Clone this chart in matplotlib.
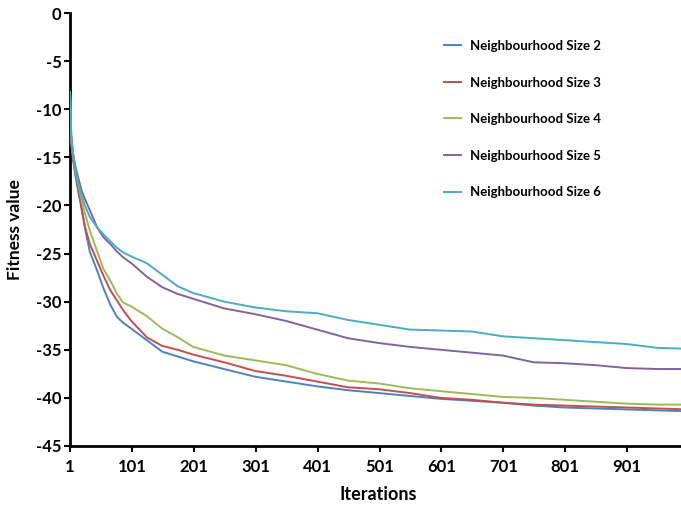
import matplotlib
matplotlib.use("Agg")
import matplotlib.pyplot as plt

# MARK:- data
iterations = [1, 3, 6, 10, 15, 20, 25, 33, 45, 55, 66, 77, 87, 100, 125, 150, 175, 200,
              250, 300, 350, 400, 450, 500, 550, 600, 650, 700, 750, 800, 850, 900, 950, 1000]

size2 = [-8.2, -13.5, -15.3, -17.0, -18.8, -20.3, -22.3, -24.8, -26.8, -28.6, -30.3, -31.6,
         -32.2, -32.8, -34.0, -35.2, -35.7, -36.2, -37.0, -37.8, -38.3, -38.8, -39.2, -39.5,
         -39.8, -40.1, -40.3, -40.5, -40.8, -41.0, -41.1, -41.2, -41.3, -41.4]
size3 = [-8.2, -13.3, -15.1, -16.8, -18.5, -20.5, -22.2, -24.0, -25.8, -27.3, -28.8, -29.9,
         -30.9, -32.0, -33.7, -34.6, -35.0, -35.5, -36.3, -37.2, -37.7, -38.3, -38.9, -39.1,
         -39.5, -40.0, -40.2, -40.5, -40.7, -40.8, -40.9, -41.0, -41.1, -41.2]
size4 = [-8.2, -13.2, -14.9, -16.5, -18.0, -19.5, -20.8, -22.6, -24.8, -26.6, -27.8, -29.2,
         -30.1, -30.5, -31.5, -32.8, -33.7, -34.7, -35.6, -36.1, -36.6, -37.5, -38.2, -38.5,
         -39.0, -39.3, -39.6, -39.9, -40.0, -40.2, -40.4, -40.6, -40.7, -40.7]
size5 = [-8.2, -12.8, -14.6, -16.0, -17.3, -18.5, -19.3, -20.5, -22.3, -23.3, -24.0, -24.8,
         -25.4, -26.0, -27.4, -28.5, -29.2, -29.7, -30.7, -31.3, -32.0, -32.9, -33.8, -34.3,
         -34.7, -35.0, -35.3, -35.6, -36.3, -36.4, -36.6, -36.9, -37.0, -37.0]
size6 = [-8.2, -12.6, -14.7, -16.4, -17.8, -19.0, -20.0, -21.2, -22.3, -23.0, -23.7, -24.4,
         -24.9, -25.3, -26.0, -27.2, -28.4, -29.1, -30.0, -30.6, -31.0, -31.2, -31.9, -32.4,
         -32.9, -33.0, -33.1, -33.6, -33.8, -34.0, -34.2, -34.4, -34.8, -34.9]

series = [size2, size3, size4, size5, size6]
labels = ["Neighbourhood Size 2", "Neighbourhood Size 3", "Neighbourhood Size 4",
          "Neighbourhood Size 5", "Neighbourhood Size 6"]
colors = ["#4F81BD", "#C0504D", "#9BBB59", "#8064A2", "#4BACC6"]

xticks = [1, 101, 201, 301, 401, 501, 601, 701, 801, 901]
yticks = [0, -5, -10, -15, -20, -25, -30, -35, -40, -45]

# MARK:- plot
plt.rcParams["font.family"] = ["Lato", "DejaVu Sans"]
plt.rcParams["axes.unicode_minus"] = False
W, H = 681, 507
fig = plt.figure(figsize=(W / 100, H / 100), dpi=100)
ax = fig.add_axes([70 / W, 1 - 446 / H, 1 - 70 / W, (446 - 13) / H])

for vals, lab, col in zip(series, labels, colors):
    ax.plot(iterations, vals, color=col, lw=1.4, label=lab, zorder=3)

ax.set_xlim(1, 988)
ax.set_ylim(-45, 0)
ax.set_xticks(xticks)
ax.set_yticks(yticks)
ax.tick_params(direction="out", length=4, width=1.5, labelsize=12)
ax.tick_params(axis="x", pad=5)
ax.tick_params(axis="y", pad=2)
for t in ax.get_xticklabels() + ax.get_yticklabels():
    t.set_fontweight("bold")
for s in ["top", "right"]:
    ax.spines[s].set_visible(False)
for s in ["left", "bottom"]:
    ax.spines[s].set_linewidth(2)

fig.text(378 / W, 1 - 494 / H, "Iterations", ha="center", va="center",
         fontsize=13, fontweight="bold")
fig.text(15 / W, 1 - 230 / H, "Fitness value", ha="center", va="center",
         rotation=90, fontsize=12.5, fontweight="bold")

leg = ax.legend(loc="upper left", bbox_to_anchor=(444 / W, 1 - 40 / H),
                bbox_transform=fig.transFigure, frameon=False,
                prop={"size": 9.5, "weight": "bold"}, labelspacing=1.86,
                handlelength=1.3, handletextpad=0.7, borderpad=0, borderaxespad=0)

fig.savefig("out.png", dpi=100)
